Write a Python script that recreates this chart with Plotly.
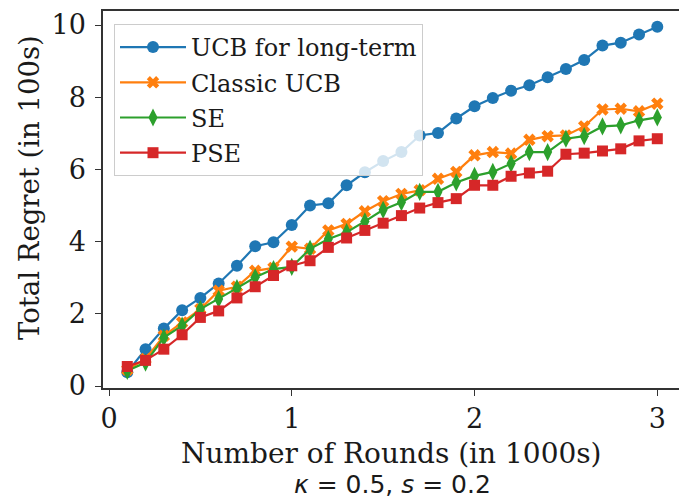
import plotly.graph_objects as go

rounds = [0.1, 0.2, 0.3, 0.4, 0.5, 0.6, 0.7, 0.8, 0.9, 1.0,
          1.1, 1.2, 1.3, 1.4, 1.5, 1.6, 1.7, 1.8, 1.9, 2.0,
          2.1, 2.2, 2.3, 2.4, 2.5, 2.6, 2.7, 2.8, 2.9, 3.0]

ucb_long = [0.38, 1.02, 1.59, 2.10, 2.44, 2.84, 3.33, 3.87, 3.98, 4.46,
            5.00, 5.06, 5.56, 5.92, 6.23, 6.48, 6.94, 7.01, 7.41, 7.75,
            7.98, 8.18, 8.33, 8.55, 8.78, 9.03, 9.43, 9.51, 9.74, 9.95]
classic_ucb = [0.45, 0.75, 1.39, 1.76, 2.13, 2.64, 2.75, 3.19, 3.27, 3.86,
               3.80, 4.31, 4.49, 4.84, 5.12, 5.32, 5.42, 5.74, 5.93, 6.39,
               6.48, 6.44, 6.82, 6.92, 6.94, 7.19, 7.66, 7.68, 7.61, 7.82]
se = [0.42, 0.65, 1.34, 1.67, 2.13, 2.41, 2.71, 3.01, 3.24, 3.30,
      3.80, 4.07, 4.26, 4.56, 4.88, 5.09, 5.38, 5.38, 5.64, 5.82,
      5.93, 6.16, 6.48, 6.48, 6.85, 6.92, 7.19, 7.22, 7.36, 7.44]
pse = [0.54, 0.71, 1.02, 1.42, 1.90, 2.08, 2.44, 2.75, 3.06, 3.33,
       3.47, 3.84, 4.10, 4.31, 4.51, 4.72, 4.93, 5.08, 5.19, 5.56,
       5.56, 5.81, 5.90, 5.95, 6.42, 6.45, 6.51, 6.57, 6.79, 6.85]

series_names = ["UCB for long-term", "Classic UCB", "SE", "PSE"]
series_values = [ucb_long, classic_ucb, se, pse]
colors = ["#1f77b4", "#ff7f0e", "#2ca02c", "#d62728"]
symbols = ["circle", "x", "diamond-tall", "square"]
msizes = [12, 11, 13, 11]

x_ticks = [0, 1, 2, 3]
y_ticks = [0, 2, 4, 6, 8, 10]

FONT = "DejaVu Serif"

fig = go.Figure()
for name, vals, c, s, ms in zip(series_names, series_values, colors, symbols, msizes):
    fig.add_trace(go.Scatter(
        x=rounds, y=vals, name=name, mode="lines+markers",
        line=dict(color=c, width=2.2),
        marker=dict(color=c, symbol=s, size=ms, line=dict(width=0)),
        legendgroup=name,
    ))

L, R, T, B = 103, 679, 11, 388
W, H = 679, 500
pw, ph = R - L, B - T

def px(xp):
    return (xp - L) / pw

def py(yp):
    return (B - yp) / ph

fig.update_layout(
    width=W, height=H,
    margin=dict(l=L, r=W - R, t=T, b=H - B, pad=0),
    paper_bgcolor="white", plot_bgcolor="white",
    font=dict(family=FONT, color="#1a1a1a"),
    showlegend=True,
    legend=dict(
        x=px(114), y=py(24), xanchor="left", yanchor="top",
        bgcolor="rgba(255,255,255,0.8)", bordercolor="#cccccc", borderwidth=1,
        font=dict(family=FONT, size=24, color="#1a1a1a"),
        traceorder="grouped", tracegroupgap=1, itemwidth=66,
    ),
    xaxis=dict(
        range=[-(109 - L) / 182.8, 3 + (R - 657.3) / 182.8],
        tickvals=x_ticks, ticktext=[str(v) for v in x_ticks],
        ticks="outside", ticklen=6, tickwidth=1.3, tickcolor="#333",
        showline=True, linecolor="#333", linewidth=1.5, mirror=True,
        showgrid=False, zeroline=False,
        tickfont=dict(family=FONT, size=27, color="#1a1a1a"),
    ),
    yaxis=dict(
        range=[-(B - 386) / 36.1, (386 - T) / 36.1],
        tickvals=y_ticks, ticktext=[str(v) for v in y_ticks],
        ticks="outside", ticklen=6, tickwidth=1.3, tickcolor="#333",
        showline=True, linecolor="#333", linewidth=1.5,
        showgrid=False, zeroline=False,
        tickfont=dict(family=FONT, size=27, color="#1a1a1a"),
        ticklabelstandoff=4,
    ),
)

fig.add_annotation(
    text="Number of Rounds (in 1000s)", xref="paper", yref="paper",
    x=px(391), y=py(453), xanchor="center", yanchor="middle", showarrow=False,
    font=dict(family=FONT, size=28, color="#1a1a1a"),
)
fig.add_annotation(
    text="<i>κ</i> = 0.5, <i>s</i> = 0.2", xref="paper", yref="paper",
    x=px(392), y=py(485), xanchor="center", yanchor="middle", showarrow=False,
    font=dict(family="DejaVu Sans", size=25, color="#1a1a1a"),
)
fig.add_annotation(
    text="Total Regret (in 100s)", xref="paper", yref="paper",
    x=px(29), y=py(188), xanchor="center", yanchor="middle", showarrow=False,
    textangle=-90,
    font=dict(family=FONT, size=27.5, color="#1a1a1a"),
)

fig.write_html("out.html")
